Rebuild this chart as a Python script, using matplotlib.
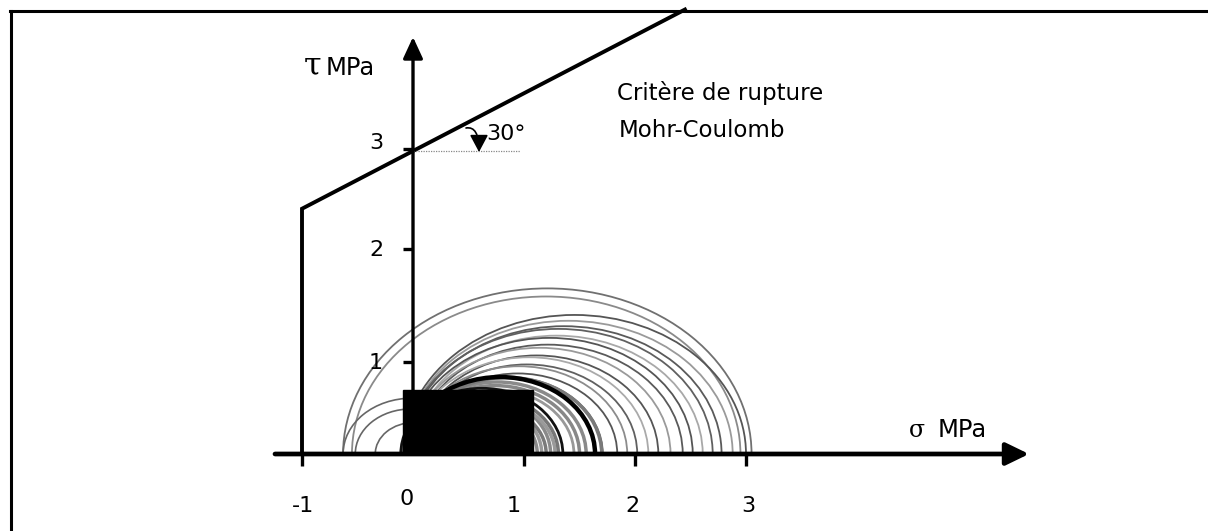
import numpy as np
import matplotlib
matplotlib.use("Agg")
import matplotlib.pyplot as plt
from matplotlib.patches import Arc, Rectangle

plt.rcParams['font.family'] = ['DejaVu Sans']

# ---------------- data ----------------
x_ticks = [-1, 1, 2, 3]
x_tick_labels = ["-1", "0", "1", "2", "3"]
y_ticks = [0.92, 2.05, 3.05]
y_tick_labels = ["1", "2", "3"]

cohesion = 3.03          # tau intercept of failure line
phi_deg = 30             # friction angle
sigma_cutoff = -1.0      # tension cut-off
sigma_top = 2.45         # where envelope leaves the frame

# large Mohr circles (sigma3, sigma1)
big_s3 = [-0.63, -0.55, -0.09, -0.08, -0.06, -0.08, -0.02, -0.06, 0.00, -0.04, 0.02, -0.03, 0.03, -0.02, 0.05, 0.00]
big_s1 = [3.05, 2.95, 3.00, 2.88, 2.78, 2.70, 2.61, 2.52, 2.43, 2.32, 2.21, 2.12, 2.02, 1.93, 1.84, 1.71]
big_col = ["#707070", "#8a8a8a", "#555555", "#9a9a9a", "#5a5a5a", "#606060", "#a8a8a8", "#555555",
           "#5a5a5a", "#9a9a9a", "#555555", "#aaaaaa", "#606060", "#8c8c8c", "#555555", "#666666"]

# dense cluster of small circles
clu_s3 = [0.05, 0.00, 0.10, -0.05, 0.08, 0.00, 0.02, -0.02, -0.04, 0.00, -0.11, -0.07]
clu_s1 = [1.12, 1.16, 1.20, 1.24, 1.28, 1.31, 1.45, 1.50, 1.56, 1.70, 1.35, 1.64]
clu_col = ["#8a8a8a", "#999999", "#7a7a7a", "#8a8a8a", "#9a9a9a", "#777777",
           "#999999", "#888888", "#8a8a8a", "#7a7a7a", "#111111", "#000000"]
clu_lw = [2.5, 2.5, 2.5, 2.5, 2.5, 2.5, 2.0, 2.5, 2.5, 2.5, 2.0, 3.2]

# small circles on the left
small_s3 = [-0.63, -0.52, -0.34]
small_s1 = [0.61, 0.48, 0.36]

# black rectangle (sigma range, tau height)
rect_s = [-0.09, 1.08]
rect_t = 0.64

K = 0.9  # vertical drawing scale of circles

# ---------------- figure ----------------
W, H = 1208, 531
fig = plt.figure(figsize=(W / 100, H / 100), dpi=100)
ax = fig.add_axes([0, 0, 1, 1])
X0, Y0, SX, SY = 413, 454, 111, 100
ax.set_xlim(-X0 / SX, (W - X0) / SX)
ax.set_ylim((Y0 - H) / SY, Y0 / SY)
ax.axis('off')


def P(px, py):
    return (px - X0) / SX, (Y0 - py) / SY


# border (top and left)
fig.add_artist(plt.Line2D([10 / W, 1.0], [1 - 10.5 / H, 1 - 10.5 / H], color='black', lw=2.2))
fig.add_artist(plt.Line2D([10.5 / W, 10.5 / W], [0, 1 - 10.5 / H], color='black', lw=2.2))

# circles
for s3, s1, c in zip(big_s3, big_s1, big_col):
    r = (s1 - s3) / 2
    ax.add_patch(Arc(((s1 + s3) / 2, 0), 2 * r, 2 * K * r, theta1=0, theta2=180,
                     color=c, lw=1.3, zorder=2))
for s3, s1, c, lw in zip(clu_s3, clu_s1, clu_col, clu_lw):
    r = (s1 - s3) / 2
    ax.add_patch(Arc(((s1 + s3) / 2, 0), 2 * r, 2 * K * r, theta1=0, theta2=180,
                     color=c, lw=lw, zorder=2))
for s3, s1 in zip(small_s3, small_s1):
    r = (s1 - s3) / 2
    ax.add_patch(Arc(((s1 + s3) / 2, 0), 2 * r, 2 * K * r, theta1=0, theta2=180,
                     color="#666666", lw=1.2, zorder=2))

# black rectangle
ax.add_patch(Rectangle((rect_s[0], 0), rect_s[1] - rect_s[0], rect_t,
                       facecolor='black', edgecolor='black', zorder=3))

# failure envelope
tan_phi = np.tan(np.radians(phi_deg))
env_s = [sigma_cutoff, sigma_cutoff, sigma_top]
env_t = [0, cohesion + tan_phi * sigma_cutoff, cohesion + tan_phi * sigma_top]
ax.plot(env_s, env_t, color='black', lw=2.8, solid_joinstyle='miter', zorder=4)

# dotted horizontal reference
ax.plot([0, 0.96], [cohesion, cohesion], color='#888888', lw=0.9, ls=(0, (1, 1)), zorder=4)

# axes with arrows
ax.annotate('', xy=P(1029, 454), xytext=P(275, 454),
            arrowprops=dict(arrowstyle='-|>,head_length=0.7,head_width=0.34', mutation_scale=20,
                            lw=3.4, color='black', shrinkA=0, shrinkB=0), zorder=5)
ax.annotate('', xy=P(413, 37), xytext=P(413, 454),
            arrowprops=dict(arrowstyle='-|>,head_length=0.65,head_width=0.3', mutation_scale=20,
                            lw=2.4, color='black', shrinkA=0, shrinkB=0), zorder=5)

# ticks
for xt in x_ticks:
    ax.plot([xt, xt], [0, -0.12], color='black', lw=2.4, solid_capstyle='butt', zorder=5)
for yt in y_ticks:
    ax.plot([-0.09, 0], [yt, yt], color='black', lw=2.4, solid_capstyle='butt', zorder=5)

# tick labels
x_label_px = [303, 407, 514, 632, 748]
x_label_py = [506, 499, 506, 506, 506]
for lab, px_, py_ in zip(x_tick_labels, x_label_px, x_label_py):
    ax.text(*P(px_, py_), lab, ha='center', va='center', fontsize=16)
y_label_py = [363, 250, 143]
for lab, py_ in zip(y_tick_labels, y_label_py):
    ax.text(*P(376, py_), lab, ha='center', va='center', fontsize=16)

# axis titles
ax.text(*P(313, 74), 'τ', ha='center', va='baseline', fontsize=23, family='DejaVu Serif')
ax.text(*P(326, 75), 'MPa', ha='left', va='baseline', fontsize=17.5)
ax.text(*P(917, 437), 'σ', ha='center', va='baseline', fontsize=17, family='DejaVu Serif')
ax.text(*P(938, 437), 'MPa', ha='left', va='baseline', fontsize=17.5)

# annotations
ax.text(*P(617, 100), 'Critère de rupture', ha='left', va='baseline', fontsize=16.5)
ax.text(*P(619, 137), 'Mohr-Coulomb', ha='left', va='baseline', fontsize=16.5)
ax.text(*P(486, 140), '30°', ha='left', va='baseline', fontsize=16)
ax.annotate('', xy=P(479, 152), xytext=P(466, 128),
            arrowprops=dict(arrowstyle='-|>,head_length=0.75,head_width=0.4', mutation_scale=14,
                            lw=1.2, color='black', shrinkA=0, shrinkB=0,
                            connectionstyle='angle3,angleA=10,angleB=90'), zorder=5)

fig.savefig('out.png', dpi=100, facecolor='white')
